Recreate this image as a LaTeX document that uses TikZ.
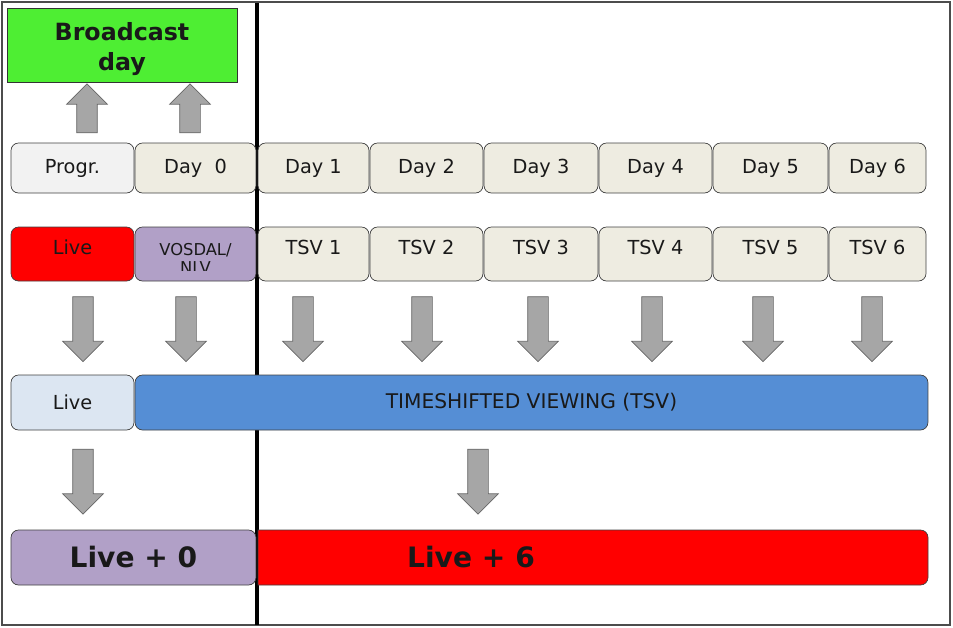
\documentclass[tikz,border=0pt]{standalone}
\usepackage{fontspec}
\setmainfont{DejaVu Sans}
\usetikzlibrary{shapes,arrows,positioning,calc}

\definecolor{bdgreen}{RGB}{78,238,51}
\definecolor{daygray}{RGB}{238,236,225}
\definecolor{proggray}{RGB}{242,242,242}
\definecolor{vospurple}{RGB}{177,160,199}
\definecolor{livelight}{RGB}{220,230,242}
\definecolor{tsvblue}{RGB}{85,142,213}
\definecolor{txt}{RGB}{25,25,25}

\begin{document}
\begin{tikzpicture}
  [x=0.02cm, y=-0.02cm,
  every node/.style={text=txt, font=\fontsize{11}{13}\selectfont},
  box/.style={draw=black!75, rounded corners=0.15cm, inner sep=0pt},
  daybox/.style={box, fill=daygray, minimum height=1cm},
  tsvbox/.style={box, fill=daygray, minimum height=1.08cm, text height=7.7pt, text depth=6.9pt},
  sumbox/.style={box, minimum height=1.1cm},
  bigtext/.style={font=\bfseries\fontsize{16}{19}\selectfont},
  blockarrow/.style={single arrow, draw=black!60, fill=black!35, inner xsep=0pt, inner ysep=0.2cm,
    single arrow head extend=0.2cm, minimum height=1.3cm},
 ]
  \useasboundingbox (0,0) rectangle (953,627);
  \draw[black!70, line width=0.8pt] (2,2) rectangle (950,625);
  \draw[line width=2.2pt] (257,3) -- (257,625);

\node[draw=black!80, fill=bdgreen, minimum width=4.6cm, minimum height=1.48cm, inner sep=0pt,
  font=\bfseries\fontsize{13.5}{17}\selectfont] (bday) at (122,45)
  {\raisebox{-2.8pt}[\height][\depth]{\begin{tabular}{@{}c@{}}Broadcast\\day\end{tabular}}};

% row of days
\node[daybox, fill=proggray, minimum width=2.46cm] (progr) at (72.5,168) {Progr.};
\node[daybox, minimum width=2.42cm] (day0) at (195.5,168) {Day\ \ 0};
\foreach \l/\r/\n in {258/369/1, 370/483/2, 484/598/3, 599/712/4, 713/828/5, 829/926/6}
  \node[daybox, minimum width={(\r-\l)*0.02cm}] (day\n) at ({(\l+\r)/2},168) {Day \n};

\node[blockarrow, minimum height=0.98cm, rotate=90] (up1) at (87,113.5) {};
\node[blockarrow, minimum height=0.98cm, rotate=90] (up2) at (190,113.5) {};

% row of viewing
\node[tsvbox, fill=red, minimum width=2.46cm] (live) at (72.5,254) {Live};
\node[tsvbox, fill=vospurple, minimum width=2.42cm] (vosdal) at (195.5,254) {};
\begin{scope}
  \clip (135,227) rectangle (256,270);
  \node[align=center, font=\fontsize{9.3}{10.3}\selectfont] (vosdaltext) at (195.5,258) {VOSDAL/\\NLV};
\end{scope}
\foreach \l/\r/\n in {258/369/1, 370/483/2, 484/598/3, 599/712/4, 713/828/5, 829/926/6}
  \node[tsvbox, minimum width={(\r-\l)*0.02cm}] (tsv\n) at ({(\l+\r)/2},254) {TSV \n};

\foreach \x [count=\i] in {83,186,303,422,538,652,763,872}
  \node[blockarrow, rotate=-90] (down\i) at (\x,324) {};

\node[sumbox, fill=livelight, minimum width=2.46cm] (livesum) at (72.5,402.5) {Live};
\node[sumbox, fill=tsvblue, minimum width=15.86cm, font=\fontsize{11.5}{13}\selectfont]
  (tsvsum) at (531.5,402.5) {TIMESHIFTED VIEWING (TSV)};

\node[blockarrow] [rotate=-90] (downlive) at (83,476.5) {};
\node[blockarrow] [rotate=-90] (downtsv) at (478,476.5) {};

% totals
\node[sumbox, fill=vospurple, minimum width=4.9cm, bigtext] (live0) at (133.5,557.5) {Live + 0};
\fill[red, draw=black!75] (258,585) -- (258,530) [rounded corners=0.15cm] -- (928,530) -- (928,585) [sharp corners] -- cycle;
\node[bigtext] (live6) at (471,557.5) {Live + 6};
\end{tikzpicture}
\end{document}
